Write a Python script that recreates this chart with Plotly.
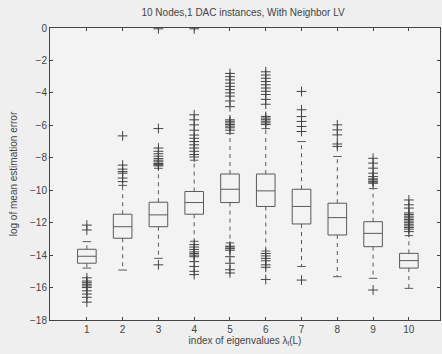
import plotly.graph_objects as go

# ---- data ----
positions = [1, 2, 3, 4, 5, 6, 7, 8, 9, 10]
q1 = [-14.5, -12.96, -12.25, -11.48, -10.76, -11.0, -12.08, -12.76, -13.48, -14.8]
median = [-14.07, -12.25, -11.52, -10.76, -9.94, -10.04, -11.0, -11.69, -12.66, -14.34]
q3 = [-13.64, -11.48, -10.74, -10.08, -9.0, -9.0, -9.94, -10.8, -11.94, -13.89]
upper_whisker = [-13.17, -9.7, -8.65, -8.15, -6.5, -6.2, -7.0, -7.92, -9.9, -12.8]
lower_whisker = [-14.8, -14.92, -14.2, -13.15, -13.25, -13.75, -14.7, -15.33, -15.43, -16.05]

outliers = {
    1: [-12.15, -12.45, -15.4, -15.6, -15.7, -15.8, -15.9, -16.0, -16.2, -16.4, -16.6, -16.9],
    2: [-6.65, -8.45, -8.7, -8.85, -8.95, -9.25, -9.47],
    3: [-0.05, -6.2, -7.4, -7.6, -7.75, -7.9, -8.05, -8.15, -8.25, -8.35, -8.4, -8.45, -8.5,
        -14.6],
    4: [-0.05, -5.35, -5.66, -5.97, -6.3, -6.6, -6.8, -7.0, -7.2, -7.4, -7.6, -7.8, -7.95,
        -13.35, -13.5, -13.65, -13.8, -13.9, -14.0, -14.1, -14.4, -14.7, -15.0, -15.2],
    5: [-2.8, -3.0, -3.2, -3.4, -3.6, -3.8, -4.0, -4.2, -4.5, -4.85,
        -5.66, -5.75, -5.85, -5.95, -6.05, -6.15, -6.3,
        -13.45, -13.5, -13.6, -13.7, -14.1, -14.5, -14.9, -15.1],
    6: [-2.7, -2.9, -3.1, -3.3, -3.5, -3.7, -3.9, -4.1, -4.4, -4.7,
        -5.45, -5.55, -5.65, -5.75, -5.85, -5.95,
        -13.9, -14.05, -14.2, -14.35, -14.6, -14.75, -15.5],
    7: [-3.91, -5.04, -5.46, -5.76, -6.07, -6.38, -15.54],
    8: [-5.97, -6.28, -6.59, -7.15, -7.3],
    9: [-8.03, -8.33, -8.64, -8.95, -9.16, -9.3, -9.36, -9.45, -9.5, -9.57, -16.15],
    10: [-10.6, -10.9, -11.1, -11.4, -11.5, -11.6, -11.7, -11.8, -11.9, -12.0, -12.1,
         -12.2, -12.3, -12.4, -12.55],
}

title_text = "10 Nodes,1 DAC instances, With Neighbor LV"
x_label = "index of eigenvalues λ<sub>l</sub>(L)"
y_label = "log of mean estimation error"
y_ticks = [0, -2, -4, -6, -8, -10, -12, -14, -16, -18]

LINE = "#5a5a5a"
DARK = "#444444"
BOX_W = 0.52
CAP_W = 0.12

fig = go.Figure()

# box bodies (no whiskers)
fig.add_trace(go.Box(
    x=positions, q1=q1, median=median, q3=q3,
    lowerfence=q1, upperfence=q3,
    width=BOX_W, whiskerwidth=0,
    fillcolor="rgba(0,0,0,0)",
    line=dict(color=LINE, width=1),
    boxpoints=False, hoverinfo="skip", showlegend=False,
))

# dashed whiskers
wx, wy = [], []
for p, a, b, lo, hi in zip(positions, q1, q3, lower_whisker, upper_whisker):
    wx += [p, p, None, p, p, None]
    wy += [b, hi, None, a, lo, None]
fig.add_trace(go.Scatter(x=wx, y=wy, mode="lines",
                         line=dict(color=LINE, width=1, dash="4px,4px"),
                         hoverinfo="skip", showlegend=False))

# whisker caps
cx, cy = [], []
for p, lo, hi in zip(positions, lower_whisker, upper_whisker):
    cx += [p - CAP_W, p + CAP_W, None, p - CAP_W, p + CAP_W, None]
    cy += [hi, hi, None, lo, lo, None]
fig.add_trace(go.Scatter(x=cx, y=cy, mode="lines",
                         line=dict(color=LINE, width=1),
                         hoverinfo="skip", showlegend=False))

# outliers
ox, oy = [], []
for p, vals in outliers.items():
    ox += [p] * len(vals)
    oy += vals
fig.add_trace(go.Scatter(x=ox, y=oy, mode="markers",
                         marker=dict(symbol="cross-thin", size=7,
                                     line=dict(color=DARK, width=1)),
                         hoverinfo="skip", showlegend=False))

fig.update_layout(
    width=442, height=354,
    margin=dict(l=50, r=2, t=28, b=34),
    paper_bgcolor="#efefef", plot_bgcolor="#f3f3f3",
    font=dict(family="Liberation Sans, Arial, sans-serif", size=10, color=DARK),
    title=dict(text=title_text, x=0.55, xanchor="center", y=0.965, yanchor="middle",
               font=dict(size=10, color=DARK)),
    showlegend=False,
)
fig.update_xaxes(
    range=[-0.03, 10.87], tickmode="array", tickvals=positions,
    ticks="inside", ticklen=3, tickcolor=DARK,
    showline=True, linecolor=DARK, linewidth=1, mirror="ticks",
    showgrid=False, zeroline=False,
    title=dict(text=x_label, standoff=2, font=dict(size=10)),
)
fig.update_yaxes(
    range=[-18, 0], tickmode="array", tickvals=y_ticks,
    ticktext=[("−" + str(-t)) if t < 0 else str(t) for t in y_ticks],
    ticks="inside", ticklen=3, tickcolor=DARK,
    showline=True, linecolor=DARK, linewidth=1, mirror="ticks",
    showgrid=False, zeroline=False,
    title=dict(text=y_label, standoff=10, font=dict(size=10)),
)

fig.write_html("out.html")
